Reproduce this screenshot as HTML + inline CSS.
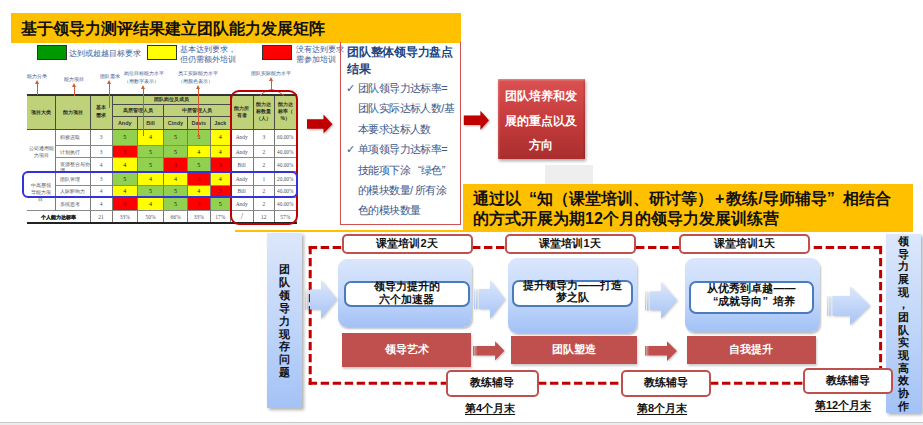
<!DOCTYPE html>
<html><head><meta charset="utf-8">
<style>
html,body{margin:0;padding:0;background:#fff;}
body{width:923px;height:425px;position:relative;overflow:hidden;font-family:"Liberation Sans",sans-serif;}
.a{position:absolute;}
.title{left:11px;top:13.3px;width:450px;height:29.6px;background:#ffc000;}
.title span{position:absolute;left:10px;top:6px;font-size:16px;font-weight:bold;color:#111;white-space:nowrap;line-height:19px;}
.lg{position:absolute;top:45px;width:28px;height:13px;border:1px solid #333;}
.lt{position:absolute;font-size:8px;line-height:9.5px;color:#41609a;white-space:nowrap;}
.lab{position:absolute;font-size:5px;line-height:7.5px;color:#35548f;white-space:nowrap;text-align:center;}
.arr{position:absolute;width:1px;background:#d8572e;}
.arr:before{content:"";position:absolute;left:-2px;top:-3px;border-left:2.5px solid transparent;border-right:2.5px solid transparent;border-bottom:4px solid #d8572e;}
table.m{position:absolute;left:27px;top:94px;border-collapse:collapse;table-layout:fixed;font-size:5px;}
table.m td{border:1px solid #555;padding:0;text-align:center;vertical-align:middle;overflow:hidden;line-height:6px;}
table.m tr.h td{background:#c4d79b;font-weight:bold;color:#333;}
.g{background:#92d050;}.y{background:#ffff00;}.r{background:#ff0000;}
.n{font-family:"Liberation Serif",serif;font-size:6px;color:#333;}
.c{position:absolute;box-sizing:border-box;border-right:1px solid #7a7a7a;border-bottom:1px solid #8a8a8a;display:flex;align-items:center;justify-content:center;text-align:center;font-size:5px;line-height:6px;overflow:hidden;}
.c i{font-style:normal;display:block;}
.c.w{background:#fff;}
.c.h{background:#bfd27a;font-weight:bold;color:#2a2a2a;border-color:#4a4a4a;font-size:5px;}
.c.nm{font-size:5.5px;color:#333;}
.c.g{background:#92d050;}.c.y{background:#ffff00;}.c.r{background:#ff0000;}
.c.n{font-family:"Liberation Serif",serif;font-size:5.5px;color:#333;}
.c.g.n,.c.y.n{color:#111;font-size:6px;}
.c.w.n{color:#555;}
.c.r.n{color:#7a0000;font-size:6px;}
.pt{position:absolute;left:347px;top:44px;font-size:12px;line-height:16.5px;font-weight:bold;color:#22467f;letter-spacing:-0.25px;white-space:nowrap;}
.pb{position:absolute;left:346px;top:78px;font-size:11px;line-height:20.4px;letter-spacing:-0.6px;color:#3a5a8c;white-space:nowrap;}
.pb .ck{display:inline-block;width:12px;}
.lbl{position:absolute;box-sizing:border-box;border:2.7px solid #c0504d;border-radius:5px;background:#fff;font-size:11px;font-weight:bold;color:#111;text-align:center;white-space:nowrap;}
.bb{position:absolute;box-sizing:border-box;border-radius:9px;background:linear-gradient(#dae6fc,#c4d8fa 55%,#a2c1f6);box-shadow:1px 2px 2px rgba(0,0,0,.25);}
.ib{position:absolute;box-sizing:border-box;border:2.8px solid #4a7bbd;border-radius:7px;background:#fff;font-size:11px;line-height:12px;font-weight:bold;color:#111;text-align:center;white-space:nowrap;}
.rb{position:absolute;background:#c0504d;color:#fff;font-size:11px;font-weight:bold;text-align:center;box-shadow:1px 2px 2px rgba(0,0,0,.2);}
.vb{position:absolute;box-sizing:border-box;background:linear-gradient(#dce7fb,#bcd3f9 60%,#a3c2f6);box-shadow:2px 2px 3px rgba(0,0,0,.3);font-size:11px;line-height:12.9px;font-weight:bold;color:#111;text-align:center;}
.mo{position:absolute;font-size:11px;font-weight:bold;color:#111;text-decoration:underline;text-decoration-thickness:1.4px;text-underline-offset:1.5px;white-space:nowrap;line-height:12px;}
.q1{display:inline-block;width:1em;text-align:right;}
.q2{display:inline-block;width:1em;text-align:left;}
.it{position:relative;display:block;top:-3px;}
.bar{filter:drop-shadow(1px 1px 1px rgba(0,0,0,.22));}
</style></head><body>
<div class="a title"><span>基于领导力测评结果建立团队能力发展矩阵</span></div>

<div class="lg" style="left:37px;background:#009a00;"></div>
<div class="lt" style="left:69px;top:48.7px;">达到或超越目标要求</div>
<div class="lg" style="left:147px;background:#ffff00;"></div>
<div class="lt" style="left:180px;top:45px;">基本达到要求，<br>但仍需额外培训</div>
<div class="lg" style="left:262px;background:#ff0000;"></div>
<div class="lt" style="left:296px;top:45px;">没有达到要求，<br>需参加培训</div>

<!--TABLE-->
<div class="c h" style="left:27px;top:95px;width:28.5px;height:34.5px;"><i>项目大类</i></div>
<div class="c h" style="left:55.5px;top:95px;width:35.0px;height:34.5px;"><i>能力项目</i></div>
<div class="c h" style="left:90.5px;top:95px;width:22.0px;height:34.5px;font-size:5px;line-height:7.5px"><i>基本<br>需求</i></div>
<div class="c h" style="left:112.5px;top:95px;width:118.5px;height:9.5px;"><i>团队岗位及成员</i></div>
<div class="c h" style="left:112.5px;top:104.5px;width:51.5px;height:12.5px;"><i>高层管理人员</i></div>
<div class="c h" style="left:164px;top:104.5px;width:67px;height:12.5px;"><i>中层管理人员</i></div>
<div class="c h nm" style="left:112.5px;top:117px;width:25.5px;height:12.5px;"><i>Andy</i></div>
<div class="c h nm" style="left:138px;top:117px;width:26px;height:12.5px;"><i>Bill</i></div>
<div class="c h nm" style="left:164px;top:117px;width:24px;height:12.5px;"><i>Cindy</i></div>
<div class="c h nm" style="left:188px;top:117px;width:22.5px;height:12.5px;"><i>Davis</i></div>
<div class="c h nm" style="left:210.5px;top:117px;width:20.5px;height:12.5px;"><i>Jack</i></div>
<div class="c h" style="left:231px;top:95px;width:22.5px;height:34.5px;line-height:7px"><i>能力所<br>有者</i></div>
<div class="c h" style="left:253.5px;top:95px;width:21.5px;height:34.5px;line-height:7px"><i>能力达<br>标数量<br>（人）</i></div>
<div class="c h" style="left:275px;top:95px;width:21.5px;height:34.5px;line-height:7px"><i>能力达<br>标率（<br>%）</i></div>
<div class="c w" style="left:27px;top:129.5px;width:28.5px;height:42.5px;color:#555;line-height:7px;padding:3px 0 0 2px"><i>公司通用能<br>力项目</i></div>
<div class="c w" style="left:27px;top:172px;width:28.5px;height:39px;color:#555;line-height:7px;padding-top:2px;box-sizing:border-box"><i>中高层领<br>导能力项<br>目</i></div>
<div class="c w" style="left:55.5px;top:129.5px;width:35.0px;height:16.5px;justify-content:flex-start;text-align:left;padding-left:4px;color:#555"><i>积极进取</i></div>
<div class="c w n" style="left:90.5px;top:129.5px;width:22.0px;height:16.5px;"><i>3</i></div>
<div class="c g n" style="left:112.5px;top:129.5px;width:25.5px;height:16.5px;"><i>5</i></div>
<div class="c y n" style="left:138px;top:129.5px;width:26px;height:16.5px;"><i>4</i></div>
<div class="c g n" style="left:164px;top:129.5px;width:24px;height:16.5px;"><i>5</i></div>
<div class="c g n" style="left:188px;top:129.5px;width:22.5px;height:16.5px;"><i>5</i></div>
<div class="c y n" style="left:210.5px;top:129.5px;width:20.5px;height:16.5px;"><i>4</i></div>
<div class="c w n" style="left:231px;top:129.5px;width:22.5px;height:16.5px;"><i>Andy</i></div>
<div class="c w n" style="left:253.5px;top:129.5px;width:21.5px;height:16.5px;"><i>3</i></div>
<div class="c w n" style="left:275px;top:129.5px;width:21.5px;height:16.5px;font-size:5.3px"><i>60.00%</i></div>
<div class="c w" style="left:55.5px;top:146px;width:35.0px;height:12px;justify-content:flex-start;text-align:left;padding-left:4px;color:#555"><i>计划执行</i></div>
<div class="c w n" style="left:90.5px;top:146px;width:22.0px;height:12px;"><i>3</i></div>
<div class="c r n" style="left:112.5px;top:146px;width:25.5px;height:12px;"><i>3</i></div>
<div class="c g n" style="left:138px;top:146px;width:26px;height:12px;"><i>5</i></div>
<div class="c g n" style="left:164px;top:146px;width:24px;height:12px;"><i>5</i></div>
<div class="c y n" style="left:188px;top:146px;width:22.5px;height:12px;"><i>4</i></div>
<div class="c y n" style="left:210.5px;top:146px;width:20.5px;height:12px;"><i>4</i></div>
<div class="c w n" style="left:231px;top:146px;width:22.5px;height:12px;"><i>Andy</i></div>
<div class="c w n" style="left:253.5px;top:146px;width:21.5px;height:12px;"><i>2</i></div>
<div class="c w n" style="left:275px;top:146px;width:21.5px;height:12px;font-size:5.3px"><i>40.00%</i></div>
<div class="c w" style="left:55.5px;top:158px;width:35.0px;height:14px;justify-content:flex-start;text-align:left;padding-left:4px;color:#555;line-height:6px;padding-top:3px;align-items:flex-start"><i>资源整合与协<br>调</i></div>
<div class="c w n" style="left:90.5px;top:158px;width:22.0px;height:14px;"><i>4</i></div>
<div class="c y n" style="left:112.5px;top:158px;width:25.5px;height:14px;"><i>4</i></div>
<div class="c g n" style="left:138px;top:158px;width:26px;height:14px;"><i>5</i></div>
<div class="c r n" style="left:164px;top:158px;width:24px;height:14px;"><i>3</i></div>
<div class="c g n" style="left:188px;top:158px;width:22.5px;height:14px;"><i>5</i></div>
<div class="c r n" style="left:210.5px;top:158px;width:20.5px;height:14px;"><i>3</i></div>
<div class="c w n" style="left:231px;top:158px;width:22.5px;height:14px;"><i>Bill</i></div>
<div class="c w n" style="left:253.5px;top:158px;width:21.5px;height:14px;"><i>2</i></div>
<div class="c w n" style="left:275px;top:158px;width:21.5px;height:14px;font-size:5.3px"><i>40.00%</i></div>
<div class="c w" style="left:55.5px;top:172px;width:35.0px;height:14px;justify-content:flex-start;text-align:left;padding-left:4px;color:#555"><i>团队管理</i></div>
<div class="c w n" style="left:90.5px;top:172px;width:22.0px;height:14px;"><i>3</i></div>
<div class="c g n" style="left:112.5px;top:172px;width:25.5px;height:14px;"><i>5</i></div>
<div class="c y n" style="left:138px;top:172px;width:26px;height:14px;"><i>4</i></div>
<div class="c y n" style="left:164px;top:172px;width:24px;height:14px;"><i>4</i></div>
<div class="c r n" style="left:188px;top:172px;width:22.5px;height:14px;"><i>3</i></div>
<div class="c y n" style="left:210.5px;top:172px;width:20.5px;height:14px;"><i>4</i></div>
<div class="c w n" style="left:231px;top:172px;width:22.5px;height:14px;"><i>Andy</i></div>
<div class="c w n" style="left:253.5px;top:172px;width:21.5px;height:14px;"><i>1</i></div>
<div class="c w n" style="left:275px;top:172px;width:21.5px;height:14px;font-size:5.3px"><i>20.00%</i></div>
<div class="c w" style="left:55.5px;top:186px;width:35.0px;height:11.5px;justify-content:flex-start;text-align:left;padding-left:4px;color:#555"><i>人际影响力</i></div>
<div class="c w n" style="left:90.5px;top:186px;width:22.0px;height:11.5px;"><i>4</i></div>
<div class="c y n" style="left:112.5px;top:186px;width:25.5px;height:11.5px;"><i>4</i></div>
<div class="c g n" style="left:138px;top:186px;width:26px;height:11.5px;"><i>5</i></div>
<div class="c g n" style="left:164px;top:186px;width:24px;height:11.5px;"><i>5</i></div>
<div class="c y n" style="left:188px;top:186px;width:22.5px;height:11.5px;"><i>4</i></div>
<div class="c r n" style="left:210.5px;top:186px;width:20.5px;height:11.5px;"><i>3</i></div>
<div class="c w n" style="left:231px;top:186px;width:22.5px;height:11.5px;"><i>Bill</i></div>
<div class="c w n" style="left:253.5px;top:186px;width:21.5px;height:11.5px;"><i>2</i></div>
<div class="c w n" style="left:275px;top:186px;width:21.5px;height:11.5px;font-size:5.3px"><i>40.00%</i></div>
<div class="c w" style="left:55.5px;top:197.5px;width:35.0px;height:13.5px;justify-content:flex-start;text-align:left;padding-left:4px;color:#555"><i>系统思考</i></div>
<div class="c w n" style="left:90.5px;top:197.5px;width:22.0px;height:13.5px;"><i>4</i></div>
<div class="c r n" style="left:112.5px;top:197.5px;width:25.5px;height:13.5px;"><i>3</i></div>
<div class="c y n" style="left:138px;top:197.5px;width:26px;height:13.5px;"><i>4</i></div>
<div class="c g n" style="left:164px;top:197.5px;width:24px;height:13.5px;"><i>5</i></div>
<div class="c r n" style="left:188px;top:197.5px;width:22.5px;height:13.5px;"><i>3</i></div>
<div class="c g n" style="left:210.5px;top:197.5px;width:20.5px;height:13.5px;"><i>5</i></div>
<div class="c w n" style="left:231px;top:197.5px;width:22.5px;height:13.5px;"><i>Andy</i></div>
<div class="c w n" style="left:253.5px;top:197.5px;width:21.5px;height:13.5px;"><i>2</i></div>
<div class="c w n" style="left:275px;top:197.5px;width:21.5px;height:13.5px;font-size:5.3px"><i>40.00%</i></div>
<div class="c w" style="left:27px;top:211px;width:63.5px;height:12px;font-weight:bold;color:#222;font-size:5px;-webkit-text-stroke:0.15px #222"><i>个人能力达标率</i></div>
<div class="c w n" style="left:90.5px;top:211px;width:22.0px;height:12px;"><i>21</i></div>
<div class="c w n" style="left:112.5px;top:211px;width:25.5px;height:12px;"><i>33%</i></div>
<div class="c w n" style="left:138px;top:211px;width:26px;height:12px;"><i>50%</i></div>
<div class="c w n" style="left:164px;top:211px;width:24px;height:12px;"><i>66%</i></div>
<div class="c w n" style="left:188px;top:211px;width:22.5px;height:12px;"><i>33%</i></div>
<div class="c w n" style="left:210.5px;top:211px;width:20.5px;height:12px;"><i>17%</i></div>
<div class="c w n" style="left:231px;top:211px;width:22.5px;height:12px;font-size:8px"><i>/</i></div>
<div class="c w n" style="left:253.5px;top:211px;width:21.5px;height:12px;"><i>12</i></div>
<div class="c w n" style="left:275px;top:211px;width:21.5px;height:12px;"><i>57%</i></div>
<!--/TABLE-->

<!--TOP-->
<div class="a" style="left:27px;top:94px;width:270px;height:2px;background:#333;"></div>
<div class="a" style="left:27px;top:222px;width:270px;height:2px;background:#222;"></div>
<div class="a" style="left:27px;top:95px;width:1px;height:128px;background:#777;display:none"></div>

<div class="lab" style="left:26px;top:73px;width:22px;">能力分类</div>
<div class="lab" style="left:63px;top:76px;width:22px;">能力项目</div>
<div class="lab" style="left:99px;top:73px;width:22px;">团队需求</div>
<div class="lab" style="left:124px;top:70px;width:44px;text-align:left;">岗位目标能力水平<br>（用数字表示）</div>
<div class="lab" style="left:177.5px;top:70px;width:44px;text-align:left;">员工实际能力水平<br>（用颜色表示）</div>
<div class="lab" style="left:250px;top:70px;width:42px;">团队实际能力水平</div>
<div class="arr" style="left:37px;top:82.5px;height:12px;"></div>
<div class="arr" style="left:74px;top:85.5px;height:10.5px;"></div>
<div class="arr" style="left:109px;top:82.5px;height:25.5px;"></div>
<div class="arr" style="left:143px;top:87.5px;height:48.5px;"></div>
<div class="arr" style="left:198px;top:87.5px;height:49px;"></div>
<div class="arr" style="left:271px;top:79.5px;height:10.5px;"></div>
<svg class="a" style="left:255px;top:88px" width="35" height="8"><path d="M5 7.5 Q11 1.5 16.5 1.5 Q22 1.5 29 7.5" fill="none" stroke="#d8572e" stroke-width="1"/></svg>

<div class="a" style="left:230px;top:89.5px;width:68px;height:135px;box-sizing:border-box;border:2.5px solid #c00000;border-radius:9px;"></div>
<div class="a" style="left:22px;top:171px;width:276px;height:26.5px;box-sizing:border-box;border:2.5px solid #3333dd;border-radius:6px;"></div>
<!--/TOP-->

<!--MID-->
<svg class="a" style="left:306px;top:113px;filter:drop-shadow(1px 1.5px 1px rgba(0,0,0,.3))" width="30" height="24"><path d="M1 6.3 H17.5 V1.6 L26.5 11.3 L17.5 20.4 V15.7 H1 Z" fill="#c00000"/></svg>
<div class="a" style="left:340px;top:42px;width:121px;height:183px;box-sizing:border-box;border:1px solid #d05050;border-top:none;"></div>
<div class="pt">团队整体领导力盘点<br>结果</div>
<div class="pb"><span class="ck">✓</span>团队领导力达标率=<br><span class="ck"></span>团队实际达标人数/基<br><span class="ck"></span>本要求达标人数<br><span class="ck">✓</span>单项领导力达标率=<br><span class="ck"></span>技能项下涂<span class="q1">“</span>绿色<span class="q2">”</span><br><span class="ck"></span>的模块数量/ 所有涂<br><span class="ck"></span>色的模块数量</div>
<svg class="a" style="left:463px;top:110px;filter:drop-shadow(1px 1.5px 1px rgba(0,0,0,.3))" width="30" height="24"><path d="M0.8 5.5 H17.4 V0.8 L26 10.2 L17.4 19.9 V14.9 H0.8 Z" fill="#c00000"/></svg>
<div class="a" style="left:498px;top:79px;width:86.5px;height:80px;background:linear-gradient(#db5252,#c63c3c 50%,#aa2e2e);box-shadow:1px 2px 3px rgba(0,0,0,.35),inset 0 1.5px 0 rgba(255,255,255,.25),inset 1.5px 0 0 rgba(255,255,255,.12),inset -1.5px 0 0 rgba(0,0,0,.12);color:#fff;font-size:12px;line-height:24.5px;font-weight:bold;text-align:center;box-sizing:border-box;padding-top:5px;">团队培养和发<br>展的重点以及<br>方向</div>
<div class="a" style="left:545px;top:165px;width:48px;height:20px;background:#eeeeee;"></div>
<div class="a" style="left:463px;top:184px;width:450px;height:48px;background:#ffc000;"></div>
<div class="a" style="left:235px;top:229.5px;width:678px;height:2px;background:#ffc000;"></div>
<div class="a" style="left:473px;top:189px;font-size:16px;line-height:19.5px;font-weight:bold;color:#111;white-space:nowrap;">通过以<span class="q1">“</span>知（课堂培训、研讨等）<span style="padding:0 2px">+</span>教练/导师辅导<span class="q2">”</span>相结合<br>的方式开展为期12个月的领导力发展训练营</div>
<!--/MID-->

<!--BOT-->
<svg class="a" style="left:300px;top:240px" width="590" height="150">
<g fill="none" stroke="#c00000" stroke-width="3" stroke-dasharray="8.4 3.6">
<path d="M8.7 7.4 H42"/>
<path d="M10.2 5.9 V144.8"/>
<path d="M8.7 143.3 H146"/>
<path d="M172 7.4 H205"/>
<path d="M336 7.4 H380"/>
<path d="M582.1 7.4 H510"/>
<path d="M580.6 5.9 V128"/>
<path d="M238 143.3 H321"/>
<path d="M410 143.3 H503"/>
</g>
</svg>
<div class="vb" style="left:267px;top:233px;width:35px;height:175px;padding-top:30px;">团<br>队<br>领<br>导<br>力<br>现<br>存<br>问<br>题</div>
<div class="vb" style="left:886px;top:234px;width:35px;height:179px;padding-top:1px;line-height:12.65px;">领<br>导<br>力<br>展<br>现<br>，<br>团<br>队<br>实<br>现<br>高<br>效<br>协<br>作</div>

<div class="lbl" style="left:341.5px;top:234.2px;width:131px;height:20px;line-height:14.6px;">课堂培训2天</div>
<div class="lbl" style="left:504.5px;top:234.2px;width:131px;height:20px;line-height:14.6px;">课堂培训1天</div>
<div class="lbl" style="left:679px;top:234.2px;width:131px;height:20px;line-height:14.6px;">课堂培训1天</div>

<div class="bb" style="left:338px;top:259px;width:134px;height:67.5px;"></div>
<div class="bb" style="left:507.5px;top:258px;width:129.5px;height:74.5px;"></div>
<div class="bb" style="left:685px;top:257.5px;width:134.5px;height:74.5px;"></div>
<div class="ib" style="left:343.8px;top:280.8px;width:126px;height:26px;padding-top:0px;line-height:13px;"><span class="it">领导力提升的<br>六个加速器</span></div>
<div class="ib" style="left:512px;top:280px;width:121px;height:26.8px;"><span class="it">提升领导力——打造<br>梦之队</span></div>
<div class="ib" style="left:689px;top:280.8px;width:124.8px;height:32.8px;padding-top:2px;line-height:13px;"><span class="it">从优秀到卓越——<br><span class="q1">“</span>成就导向<span class="q2">”</span>培养</span></div>

<svg class="a bar" style="left:304px;top:279px" width="35" height="42"><defs><linearGradient id="ga" x1="0" y1="0" x2="0" y2="1"><stop offset="0" stop-color="#dce7fb"/><stop offset="1" stop-color="#a6c4f6"/></linearGradient></defs><path d="M6 10.5 H17 V1 L33 20 L17 40 V30.5 H6 Z" fill="url(#ga)"/><rect x="1" y="10.5" width="1" height="20" fill="url(#ga)"/><rect x="3" y="10.5" width="1.5" height="20" fill="url(#ga)"/></svg>
<svg class="a bar" style="left:473px;top:279px" width="35" height="42"><path d="M6 10 H17 V1 L32 20 L17 40 V30 H6 Z" fill="url(#ga)"/><rect x="1" y="10" width="1" height="20" fill="url(#ga)"/><rect x="3" y="10" width="1.5" height="20" fill="url(#ga)"/></svg>
<svg class="a bar" style="left:644px;top:280px" width="36" height="42"><path d="M6 11.3 H17 V1.7 L33 20.3 L17 38.8 V30.3 H6 Z" fill="url(#ga)"/><rect x="1" y="11.3" width="1" height="19" fill="url(#ga)"/><rect x="3" y="11.3" width="1.5" height="19" fill="url(#ga)"/></svg>
<svg class="a bar" style="left:826px;top:286px" width="48" height="42"><path d="M6.5 10 H24 V0.5 L44 19.4 L24 39.2 V29.8 H6.5 Z" fill="url(#ga)"/><rect x="1" y="10" width="1" height="19.8" fill="url(#ga)"/><rect x="3.2" y="10" width="1.5" height="19.8" fill="url(#ga)"/></svg>

<div class="rb" style="left:342px;top:333px;width:129px;height:33.5px;line-height:33.5px;">领导艺术</div>
<div class="rb" style="left:511px;top:336px;width:126px;height:27.5px;line-height:27.5px;">团队塑造</div>
<div class="rb" style="left:687px;top:336px;width:128.5px;height:27.5px;line-height:27.5px;">自我提升</div>
<svg class="a bar" style="left:472px;top:340px" width="36" height="24"><path d="M4.3 6 H23.1 V1.3 L32.5 10.8 L23.1 20.6 V15.6 H4.3 Z" fill="#c0504d"/><rect x="1" y="6" width="1.6" height="9.6" fill="#c0504d" opacity=".85"/><rect x="3" y="6" width="1.3" height="9.6" fill="#c0504d" opacity=".7"/></svg>
<svg class="a bar" style="left:644px;top:340px" width="36" height="24"><path d="M4.2 6 H23 V1.3 L33 10.9 L23 20.9 V15.6 H4.2 Z" fill="#c0504d"/><rect x="1" y="6" width="1.6" height="9.6" fill="#c0504d" opacity=".85"/><rect x="3" y="6" width="1.2" height="9.6" fill="#c0504d" opacity=".7"/></svg>

<div class="lbl" style="left:445.5px;top:370px;width:93px;height:27px;line-height:21.6px;">教练辅导</div>
<div class="lbl" style="left:620.5px;top:370px;width:90px;height:27px;line-height:21.6px;">教练辅导</div>
<div class="lbl" style="left:802.5px;top:367.5px;width:90px;height:26px;line-height:21px;">教练辅导</div>
<div class="mo" style="left:465px;top:401.5px;">第4个月末</div>
<div class="mo" style="left:637px;top:401.5px;">第8个月末</div>
<div class="mo" style="left:815px;top:398.5px;">第12个月末</div>

<div class="a" style="left:0;top:421.8px;width:923px;height:1.2px;background:#c8c8c8;"></div>
<div class="a" style="left:0;top:423px;width:923px;height:2px;background:#ececec;"></div>
<!--/BOT-->
</body></html>
